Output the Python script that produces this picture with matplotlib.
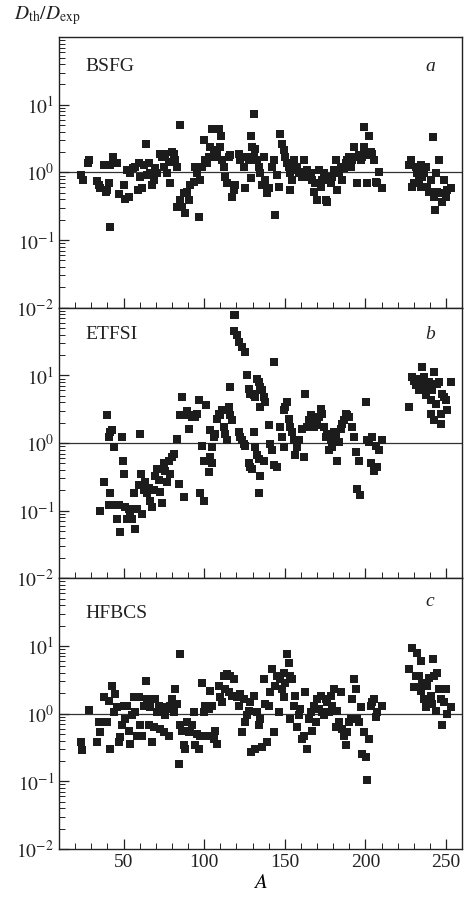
import numpy as np
import matplotlib.pyplot as plt
from matplotlib.ticker import LogLocator, NullFormatter, MultipleLocator

plt.rcParams['font.family'] = ['Liberation Serif', 'DejaVu Serif']
plt.rcParams['mathtext.fontset'] = 'stix'

# mass number A and ratio D_th/D_exp for each model
A_bsfg = [23.7, 24.7, 27.8, 28.5, 33.4, 34.5, 35.5, 39, 39.5, 37.6, 41.7, 43.4, 45.9, 40.7, 41.7,
          46.9, 50, 51, 52, 53.1, 54.1, 55.8, 57.2, 58.7, 59.3, 60.4, 61.4, 62.8, 63.9, 64.5, 65.5,
          66.6, 67.6, 68.6, 69.7, 70.7, 72.4, 73.8, 74.8, 75.9, 76.9, 78, 79, 80, 81.1, 82.1, 83.1,
          85.2, 83.1, 85.2, 86.2, 87.3, 88.3, 89.3, 90.4, 91.4, 93.5, 94.5, 95.5, 97, 97.6, 98.7,
          99.7, 100.7, 101.8, 102.8, 103.8, 104.9, 105.9, 106.9, 108, 109, 110, 110.5, 111.1, 112.1,
          113.1, 114.2, 115.2, 116.3, 117.3, 118.3, 119.4, 121.4, 122.5, 124.5, 125.6, 126.6, 127.6,
          130.7, 129.1, 129.7, 130.7, 131.8, 132.8, 133.8, 134.9, 129, 135.9, 136.9, 138, 139, 140.1,
          142.1, 143.2, 144.2, 145.2, 146.3, 147.3, 148.3, 149.4, 150.4, 151.4, 152.5, 153.1, 153.5,
          154.6, 155.6, 156.6, 157.7, 158.7, 159.7, 160.8, 162.2, 162.8, 163.9, 164.9, 166, 167, 168,
          169, 170.1, 171.1, 172.2, 173.2, 174.2, 175.3, 176.3, 177.3, 178.4, 179.4, 180.4, 181.5,
          182.5, 183.5, 184.6, 185.6, 186.6, 187.7, 188.7, 189.8, 190.8, 191.8, 192.9, 193.9, 194.9,
          196, 197, 198, 199.1, 199.1, 200.1, 201.1, 202.2, 203.2, 204.2, 205.3, 206.3, 207.3, 208.4,
          210.4, 227, 228, 229, 230.1, 231.2, 232.2, 233.2, 234.2, 234.7, 235.3, 236.3, 237.4, 238.4,
          239.4, 240.5, 240.9, 241.9, 242.5, 242.9, 243.6, 244.6, 245.6, 246.7, 247.7, 248.7, 249.8,
          250.8, 252.8]
r_bsfg = [0.92, 0.77, 1.4, 1.55, 0.75, 0.65, 0.58, 0.52, 0.55, 1.28, 1.28, 1.7, 1.4, 0.7, 0.155,
          0.48, 0.65, 0.41, 1.08, 0.44, 0.97, 1.15, 1.21, 0.55, 1.36, 0.86, 0.58, 1.28, 2.67, 0.91, 1.36,
          0.97, 0.65, 0.77, 1.15, 0.97, 1.9, 1.7, 1.21, 1.9, 0.97, 1.44, 0.69, 2.01, 1.9, 1.52, 1.21,
          4.97, 0.31, 0.39, 0.31, 0.49, 0.25, 0.52, 0.39, 0.65, 0.73, 1.21, 0.97, 0.22, 0.77, 1.21,
          3.0, 1.52, 1.36, 1.7, 2.4, 4.4, 2.13, 1.7, 1.9, 4.4, 2.4, 3.5, 1.52, 1.21,
          0.86, 0.69, 1.7, 1.8, 0.44, 0.55, 0.65, 1.9, 1.52, 1.21, 0.58, 1.7, 1.52,
          7.2, 3.5, 2.4, 1.7, 2.25, 1.52, 1.21, 0.97, 0.82, 0.65, 1.7, 0.77, 0.49, 0.58,
          1.21, 1.52, 0.236, 0.91, 0.62, 3.74, 2.67, 2.13, 1.7, 1.36, 1.21, 0.55, 0.97,
          0.77, 1.52, 1.08, 1.21, 1.02, 0.97, 0.86, 1.52, 0.97, 1.08, 0.86, 0.97, 0.77, 0.52,
          0.69, 0.39, 1.08, 0.62, 0.77, 0.97, 0.39, 0.37, 0.77, 0.69, 0.86, 1.08, 1.52,
          0.55, 0.97, 1.21, 0.77, 1.15, 1.36, 1.52, 1.7, 1.21, 1.52, 2.4, 1.7, 0.69,
          1.8, 1.52, 1.7, 4.7, 2.4, 1.8, 0.69, 3.5, 2.01, 1.9, 1.52, 0.73, 0.69, 1.0,
          0.58, 1.28, 1.52, 0.62, 0.69, 1.21, 0.97, 0.77, 1.28, 0.62, 0.86, 0.97, 1.21, 0.62,
          0.52, 0.77, 0.52, 3.34, 0.44, 0.28, 0.97, 0.52, 1.52, 0.49, 0.37, 0.77, 0.44,
          0.55, 0.58]

A_etfsi = [35.5, 37.6, 39.6, 40.7, 41.7, 42.8, 43.8, 41.7, 40.7, 43.8, 45.9, 46.9, 47.9, 49, 49.6,
           50.4, 51, 52, 53.1, 54.1, 55.2, 56.2, 57.2, 58.3, 59.3, 60.4, 60.8, 61.4, 62.4, 63.5, 64.5,
           65.5, 66.6, 67.6, 68.6, 69.7, 70.7, 71.7, 72.8, 73.8, 74.8, 75.9, 76.9, 78, 79, 80, 81.1,
           83.1, 84.2, 85.2, 86.2, 87.3, 88.3, 89.3, 90.4, 91.4, 92.4, 94.5, 95.5, 96.6, 97.6, 98.7,
           99.7, 100.1, 101.3, 101.8, 102.8, 103.8, 104.9, 103.8, 104.9, 105.9, 106.9, 108, 109, 110,
           111.1, 112.1, 113.1, 114.2, 115.2, 115.8, 116.3, 117.3, 118.3, 119.4, 118.3, 120.4, 121.4,
           123.5, 125.6, 126.6, 127.6, 128.7, 129.7, 130.7, 131.8, 132.8, 133.8, 134.9, 135.9, 136.9,
           138, 134.9, 143.2, 121.4, 122.5, 123.5, 124.5, 125.6, 127.6, 128.7, 129.7, 130.7, 131.2,
           132.8, 133.8, 134.9, 133.8, 136.9, 140.1, 141.1, 142.1, 143.2, 145.3, 147.3, 148.3, 149.4,
           149.4, 150.4, 151.4, 152.5, 153.5, 154.6, 155.6, 156.6, 157.7, 158.7, 160.8, 161.8, 162.8,
           163.9, 164.9, 166, 167, 168, 169.1, 170.1, 171.1, 172.2, 173.2, 174.2, 175.3, 176.3, 177.3,
           178.4, 179.4, 180.4, 181.5, 182.5, 183.5, 184.6, 185.6, 186.6, 187.7, 188.7, 189.8, 191.8,
           192.9, 193.9, 195, 196.6, 196, 200.1, 201.1, 202.2, 203.2, 204.2, 205.3, 206.3, 207.3,
           208.4, 210.4, 227, 229.1, 230.1, 231.2, 232.2, 233.3, 234.2, 235.3, 236.3, 237.4, 238.4,
           239.4, 240.5, 241.5, 242.5, 243.6, 244.6, 245.7, 242.5, 246.7, 247.7, 248.7, 249.8, 250.8,
           253.3, 246.7, 240.5]
r_etfsi = [0.10, 0.27, 2.6, 1.23, 1.45, 1.54, 0.87, 0.18, 0.12, 0.12, 0.076, 0.12, 0.048, 1.23, 0.55,
           0.35, 0.113, 0.076, 0.107, 0.09, 0.076, 0.18, 0.054, 0.107, 0.24, 1.37, 0.35, 0.09, 0.2, 0.27, 0.18,
           0.22, 0.14, 0.113, 0.2, 0.33, 0.42, 0.28, 0.19, 0.13, 0.5, 0.39, 0.27, 0.55, 0.35, 0.62, 0.7,
           1.16, 0.25, 2.56, 4.8, 0.16, 2.56, 3.0, 1.63, 2.56, 2.4, 2.4, 2.7, 4.3, 0.18, 0.92,
           0.14, 0.55, 3.6, 0.55, 0.37, 0.62, 0.5, 1.54, 0.87, 1.23, 1.37, 2.29, 2.7, 2.56,
           3.04, 1.72, 1.37, 1.1, 3.4, 6.7, 2.56, 2.16, 77, 77, 46, 39, 31,
           26, 22, 10, 6.3, 5.4, 5.4, 5.1, 4.8, 8.9, 7.9, 6.7, 6.0, 4.8,
           4.0, 3.4, 15.7, 1.45, 1.23, 1.1, 0.98, 0.92, 0.5, 0.44, 0.42, 1.45, 0.87,
           0.66, 0.59, 0.33, 0.18, 0.55, 1.82, 0.98, 0.78, 0.47, 0.44, 1.72, 1.23, 0.87,
           3.04, 3.4, 4.0, 2.29, 1.72, 1.45, 1.1, 0.66, 0.87, 1.1, 1.63, 0.62, 5.4,
           1.72, 2.16, 2.56, 1.93, 1.72, 2.16, 1.82, 2.4, 3.2, 2.7, 1.72, 1.23, 1.37, 0.78,
           1.1, 0.87, 1.45, 1.37, 0.55, 1.03, 1.63, 1.93, 2.16, 2.7, 2.56, 2.4, 1.72,
           1.23, 0.74, 0.21, 0.17, 0.55, 4.0, 1.1, 1.03, 0.5, 1.23, 0.39, 0.92, 0.44,
           0.78, 1.1, 3.4, 9.4, 8.4, 7.1, 9.0, 6.0, 7.5, 13.3, 9.4, 5.1, 6.0,
           8.0, 4.3, 6.0, 11.2, 3.8, 7.5, 8.0, 2.16, 1.93, 5.4, 4.8, 4.3, 3.04,
           8.0, 2.7, 2.7]

A_hfbcs = [23.7, 24.3, 28.3, 33.4, 34.7, 35.5, 37.6, 39.6, 40.7, 41.7, 42.8, 43.8, 44.8, 45.9, 46.9,
           47.9, 49, 50, 51, 52, 53.1, 54.1, 55.2, 56.2, 57.2, 58.3, 59.3, 60.4, 61.4, 62.4, 63.9,
           64.5, 65.5, 66.6, 67.6, 68.6, 69.7, 70.7, 71.7, 72.8, 73.8, 74.8, 75.9, 76.9, 78, 79, 80,
           81.1, 82.1, 83.1, 84.2, 85.2, 85.2, 86.2, 87.3, 88.3, 89.3, 90.4, 91.4, 92.5, 93.5, 94.5,
           95.5, 96.6, 97.6, 98.7, 99.7, 100.7, 101.8, 102.8, 103.8, 104.9, 105.9, 106.9, 108, 109,
           110, 111.1, 112.1, 113.1, 114.2, 115.2, 116.3, 117.3, 118.3, 120.4, 121.4, 122.5, 123.5,
           124.5, 125.6, 126.6, 127.6, 128.7, 129.1, 130.7, 131.8, 132.8, 133.8, 134.9, 135.9, 136.9,
           138, 139, 140.1, 141.1, 142.1, 143.2, 144.2, 145.3, 146.3, 147.3, 148.3, 149.4, 149.8,
           150.4, 151.4, 152.5, 153.1, 153.5, 154.6, 155.6, 156.6, 157.7, 158.7, 159.7, 160.8, 161.8,
           162.8, 163.9, 164.9, 166, 167, 168.1, 169.1, 170.1, 171.1, 172.2, 173.2, 174.2, 175.3,
           176.3, 177.3, 178.4, 179.4, 180.4, 181.5, 182.5, 183.5, 184.6, 185.6, 186.6, 187.7, 188.7,
           189.8, 190.8, 191.8, 192.9, 193.9, 195, 196, 197, 198, 199.1, 200.1, 201.1, 202.2, 203.2,
           204.2, 205.3, 206.3, 207.3, 210.4, 227, 229.1, 230.1, 231.2, 232.2, 233.3, 234.2, 234.7,
           235.3, 236.3, 237.4, 238.4, 239.4, 240.5, 241.5, 242.1, 242.5, 243.6, 244.6, 245.7, 246.7,
           247.7, 248.7, 249.8, 250.4, 252.8]
r_hfbcs = [0.38, 0.29, 1.13, 0.38, 0.75, 0.54, 1.74, 0.75, 1.55, 0.3, 2.58, 1.05, 1.95, 1.24, 0.38,
           0.45, 0.67, 1.31, 0.83, 1.31, 0.56, 0.36, 0.94, 1.74, 1.05, 0.47, 1.74, 0.67, 0.47, 1.31, 3.06,
           1.64, 0.67, 1.24, 0.38, 0.63, 1.64, 1.05, 1.31, 0.6, 1.24, 0.53, 0.94, 1.17, 0.47, 1.31, 1.64,
           1.05, 2.3, 1.39, 0.18, 7.5, 0.67, 0.56, 0.34, 0.3, 0.75, 0.53, 0.56, 0.67, 1.05, 0.34,
           0.5, 0.3, 0.47, 2.88, 1.05, 1.31, 0.47, 1.17, 2.18, 1.31, 0.42, 0.56, 0.36, 2.58,
           1.74, 1.47, 3.6, 2.3, 3.8, 2.06, 3.6, 1.84, 3.24, 1.74, 1.31, 1.95, 0.53,
           1.64, 0.75, 0.94, 1.11, 1.47, 0.27, 1.84, 0.3, 1.05, 0.67, 0.83, 0.32, 3.24,
           1.39, 0.38, 1.31, 2.06, 4.5, 0.53, 2.58, 3.6, 1.05, 3.24, 2.3, 4.05, 1.74,
           2.88, 7.5, 5.7, 3.6, 0.83, 3.24, 1.31, 1.84, 0.63, 0.94, 1.17, 0.42, 0.47,
           2.06, 0.3, 0.83, 1.05, 0.56, 1.31, 0.75, 1.64, 1.17, 1.84, 1.05, 0.94, 1.64,
           1.47, 1.05, 1.84, 1.31, 2.3, 0.63, 1.11, 0.75, 2.06, 0.6, 0.47, 0.34, 0.53,
           0.75, 0.83, 1.64, 3.24, 2.3, 0.83, 0.75, 1.24, 0.25, 0.53, 0.23, 0.104, 0.42, 1.31,
           1.47, 1.64, 0.88, 1.05, 1.31, 4.5, 9.4, 2.44, 3.6, 8.0, 3.6, 6.0, 2.18,
           2.88, 1.64, 1.24, 2.58, 3.4, 1.84, 1.39, 6.5, 3.6, 1.11, 4.05, 2.3, 1.64,
           0.67, 1.47, 2.3, 1.0, 1.24]

models = ['BSFG', 'ETFSI', 'HFBCS']
letters = ['a', 'b', 'c']
series = [(A_bsfg, r_bsfg), (A_etfsi, r_etfsi), (A_hfbcs, r_hfbcs)]

fig, axes = plt.subplots(3, 1, sharex=True, figsize=(4.65, 9.07), dpi=100)
fig.subplots_adjust(left=0.127, right=0.994, top=0.959, bottom=0.064, hspace=0)

label_y = [0.89, 0.90, 0.87]
letter_y = [0.89, 0.90, 0.915]
for ax, name, let, (A, r), ly, lty in zip(axes, models, letters, series, label_y, letter_y):
    ax.axhline(1.0, color='#333333', lw=0.9, zorder=1)
    ax.scatter(A, r, marker='s', s=32, color='#1c1c1c', linewidths=0, zorder=2)
    ax.set_yscale('log')
    ax.set_ylim(1e-2, 1e2)
    ax.set_xlim(10, 260)
    ax.set_yticks([1e-2, 1e-1, 1, 10])
    ax.set_yticklabels([r'$10^{-2}$', r'$10^{-1}$', r'$10^{0}$', r'$10^{1}$'])
    ax.yaxis.set_minor_locator(LogLocator(base=10, subs=np.arange(2, 10), numticks=20))
    ax.yaxis.set_minor_formatter(NullFormatter())
    ax.xaxis.set_major_locator(MultipleLocator(50))
    ax.xaxis.set_minor_locator(MultipleLocator(10))
    ax.tick_params(which='both', direction='in', labelsize=14, colors='#222222')
    ax.tick_params(which='major', length=7, width=0.9)
    ax.tick_params(which='minor', length=4, width=0.7)
    for sp in ax.spines.values():
        sp.set_linewidth(1.0)
        sp.set_color('#222222')
    ax.text(0.065, ly, name, transform=ax.transAxes, fontsize=14, va='center', ha='left', color='#222222')
    ax.text(0.92, lty, let, transform=ax.transAxes, fontsize=14, style='italic',
            va='center', ha='center', color='#222222')

axes[2].set_xlabel(r'$A$', fontsize=15, labelpad=2)
fig.text(0.03, 0.983, r'$D_{\rm th}/D_{\rm exp}$', fontsize=14, va='center', ha='left', color='#222222')

fig.savefig('out.png', dpi=100)
